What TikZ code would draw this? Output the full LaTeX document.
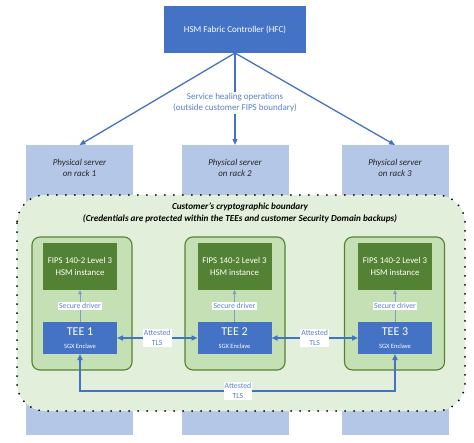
\documentclass[tikz,border=0pt]{standalone}
\usepackage{fontspec}
\setmainfont{Carlito}
\usetikzlibrary{arrows.meta}
\definecolor{hfcblue}{HTML}{4472C4}
\definecolor{srvblue}{HTML}{B4C7E7}
\definecolor{bndgreen}{HTML}{E2EFDA}
\definecolor{encgreen}{HTML}{C5E0B4}
\definecolor{darkgreen}{HTML}{548235}
\definecolor{lbl}{HTML}{5B80C8}
\definecolor{drv}{HTML}{7F9CCB}
\tikzset{
  box/.style={rectangle, inner sep=0pt, outer sep=0pt},
  hfcbox/.style={box, fill=hfcblue, text=white, font=\fontsize{9}{11}\selectfont},
  srvbox/.style={box, fill=srvblue, minimum width=107pt, minimum height=290pt},
  srvtext/.style={font=\fontsize{9}{11}\selectfont\itshape, align=center, text=black!85},
  encbox/.style={box, fill=encgreen, draw=darkgreen, line width=1.1pt, rounded corners=8pt, minimum width=100pt, minimum height=133pt},
  hsmbox/.style={box, fill=darkgreen, text=white, minimum width=74pt, minimum height=47pt, align=center, font=\fontsize{8.8}{11.5}\selectfont},
  teebox/.style={box, fill=hfcblue, text=white, minimum width=74pt, minimum height=32pt, align=center},
  arr/.style={draw=hfcblue, line width=1.3pt, -{Triangle[length=6pt,width=5pt]}},
  darr/.style={draw=hfcblue, line width=1.5pt, {Triangle[length=6pt,width=5pt]}-{Triangle[length=6pt,width=5pt]}},
  drvarr/.style={draw=drv, line width=0.8pt, -{Triangle[length=4pt,width=3.5pt]}},
  lab/.style={fill=white, inner sep=1.2pt, text=lbl, align=center, font=\fontsize{7.8}{9.5}\selectfont},
}
\begin{document}
\begin{tikzpicture}[x=1pt,y=-1pt]
\useasboundingbox (0,0) rectangle (474,442);
% servers
\node[srvbox] (s1) at (79.5,290) {};
\node[srvbox] (s2) at (235,290) {};
\node[srvbox] (s3) at (395,290) {};
\node[srvtext] (s1t) at (79.5,168) {Physical server\\on rack 1};
\node[srvtext] (s2t) at (235,168) {Physical server\\on rack 2};
\node[srvtext] (s3t) at (395,168) {Physical server\\on rack 3};
% HFC
\node[hfcbox, minimum width=142pt, minimum height=47pt] (hfc) at (235,29.5) {HSM Fabric Controller (HFC)};
\draw[arr] (hfc.south) -- (s1.north);
\draw[arr] (hfc.south) -- (s2.north);
\draw[arr] (hfc.south) -- (s3.north);
\node[lab, font=\fontsize{9}{11}\selectfont, inner sep=2pt] (heal) at (235,103) {Service healing operations\\(outside customer FIPS boundary)};
% boundary
\draw[fill=bndgreen, draw=black, line width=2pt, line cap=round, dash pattern=on 0pt off 9pt, rounded corners=28pt] (17,195) rectangle (465,411);
\node[align=center, font=\fontsize{9.2}{12}\selectfont\bfseries\itshape, text=black] (bt) at (240,213) {Customer's cryptographic boundary\\(Credentials are protected within the TEEs and customer Security Domain backups)};
% enclaves
\foreach \i/\x/\ex in {1/80/82, 2/234.5/235, 3/395/394.5}{
  \node[encbox] (e\i) at (\ex,303.5) {};
  \node[hsmbox] (h\i) at (\x,266.5) {FIPS 140-2 Level 3\\HSM instance};
  \node[teebox] (t\i) at (\x,338) {{\fontsize{12}{12}\selectfont TEE \i}\\[1pt]{\fontsize{6.5}{7}\selectfont SGX Enclave}};
  \draw[drvarr] (t\i.north) -- (h\i.south) node[lab, midway] (sd\i) {Secure driver};
}
\draw[darr] (t1.east) -- (t2.west) node[lab, midway] (tls12) {Attested\\TLS};
\draw[darr] (t2.east) -- (t3.west) node[lab, midway] (tls23) {Attested\\TLS};
\coordinate (lb) at (80,391);
\coordinate (rb) at (395,391);
\draw[darr] (t1.south) -- (lb) -- (rb) -- (t3.south);
\node[lab] (tls13) at (238,391) {Attested\\TLS};
\end{tikzpicture}
\end{document}
